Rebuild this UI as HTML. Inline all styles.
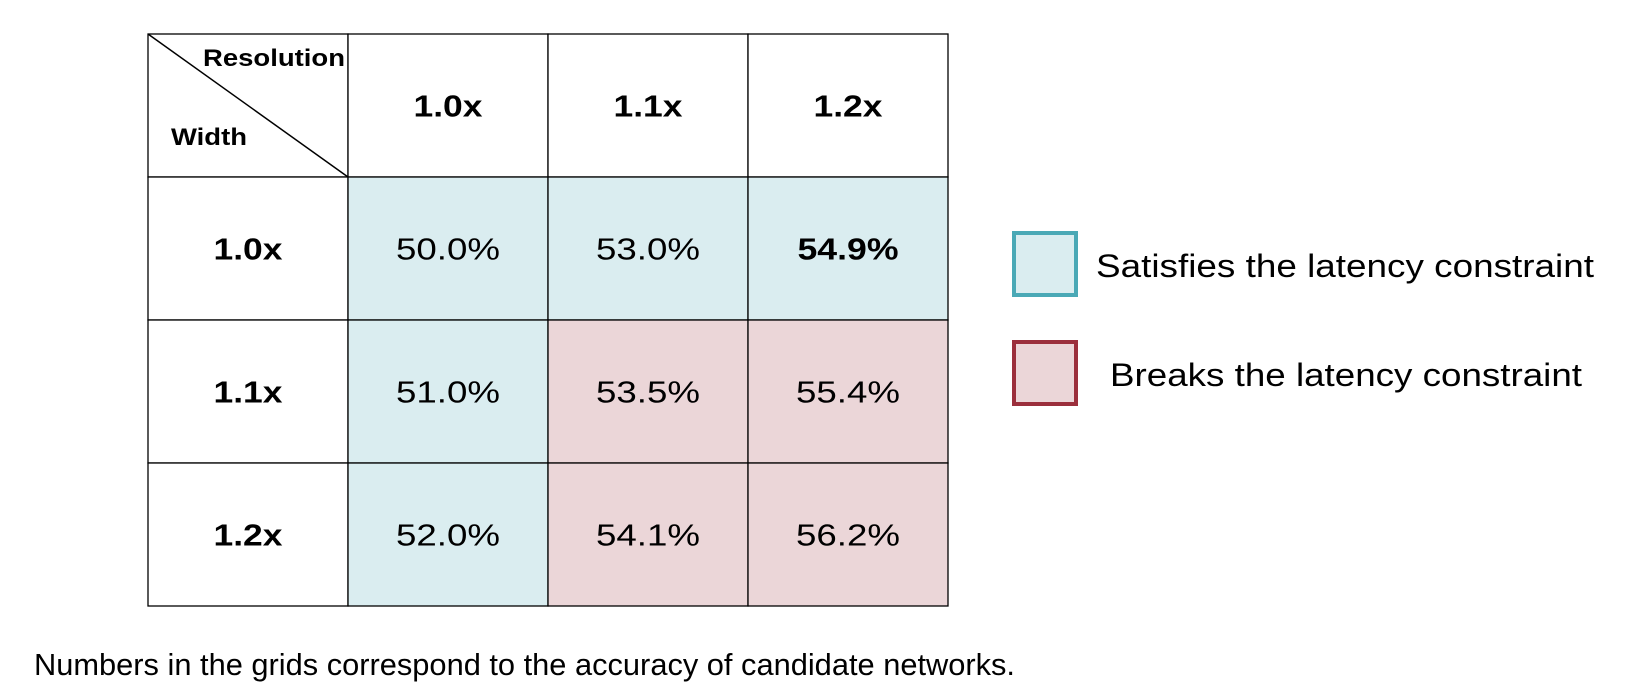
<!DOCTYPE html>
<html><head><meta charset="utf-8"><style>
body{margin:0;width:1642px;height:688px;background:#fff;font-family:"Liberation Sans",Arial,sans-serif;overflow:hidden}
</style></head><body>
<svg width="1642" height="688" xmlns="http://www.w3.org/2000/svg" font-family="Liberation Sans, Arial, sans-serif">
<g id="grid"></g>
<g>
 <rect x="1014" y="233" width="62" height="62" fill="#daedf0" stroke="#4aa9b6" stroke-width="4"/>
 <text x="1096" y="277" font-size="32" textLength="498" lengthAdjust="spacingAndGlyphs">Satisfies the latency constraint</text>
 <rect x="1014" y="342" width="62" height="62" fill="#ebd6d8" stroke="#9b2f3c" stroke-width="4"/>
 <text x="1110" y="386" font-size="32" textLength="472" lengthAdjust="spacingAndGlyphs">Breaks the latency constraint</text>
</g>
<text x="34" y="675" font-size="31" textLength="981" lengthAdjust="spacingAndGlyphs">Numbers in the grids correspond to the accuracy of candidate networks.</text>
</svg>
<script>
const resolutions=["1.0x","1.1x","1.2x"];
const widths=["1.0x","1.1x","1.2x"];
const accuracy=[[50.0,53.0,54.9],[51.0,53.5,55.4],[52.0,54.1,56.2]];
const satisfies=[[1,1,1],[1,0,0],[1,0,0]];
const best=[0,2];
const NS="http://www.w3.org/2000/svg";
const g=document.getElementById('grid');
const x0=148,y0=34,cw=200,ch=143;
function mk(t,a,txt){const e=document.createElementNS(NS,t);for(const k in a)e.setAttribute(k,a[k]);if(txt!==undefined)e.textContent=txt;g.appendChild(e);return e;}
for(let r=0;r<=widths.length;r++)for(let c=0;c<=resolutions.length;c++){
 let fill="#fff";
 if(r>0&&c>0)fill=satisfies[r-1][c-1]?"#daedf0":"#ebd6d8";
 const cell=mk('rect',{x:x0+c*cw,y:y0+r*ch,width:cw,height:ch,fill:fill,stroke:"#000","stroke-width":1.3});
 
 
 const cx=x0+c*cw+cw/2,cy=y0+r*ch+ch/2+11;
 if(r===0&&c>0){const t=mk('text',{x:cx,y:cy,"font-size":31,"font-weight":"bold","text-anchor":"middle",textLength:69,lengthAdjust:"spacingAndGlyphs"},resolutions[c-1]);
  }
 if(c===0&&r>0){const t=mk('text',{x:cx,y:cy,"font-size":31,"font-weight":"bold","text-anchor":"middle",textLength:69,lengthAdjust:"spacingAndGlyphs"},widths[r-1]);
  }
 if(r>0&&c>0){const b=best[0]===r-1&&best[1]===c-1;
  const t=mk('text',{x:cx,y:cy,"font-size":31,"font-weight":b?"bold":"normal","text-anchor":"middle",textLength:b?101:104,lengthAdjust:"spacingAndGlyphs"},accuracy[r-1][c-1].toFixed(1)+"%");
  }
}
const d=mk('line',{x1:x0,y1:y0,x2:x0+cw,y2:y0+ch,stroke:"#000","stroke-width":1.5});

const t1=mk('text',{x:x0+55,y:y0+32,"font-size":24,"font-weight":"bold",textLength:142,lengthAdjust:"spacingAndGlyphs"},"Resolution");

const t2=mk('text',{x:x0+23,y:y0+111,"font-size":24,"font-weight":"bold",textLength:76,lengthAdjust:"spacingAndGlyphs"},"Width");

</script>
</body></html>
